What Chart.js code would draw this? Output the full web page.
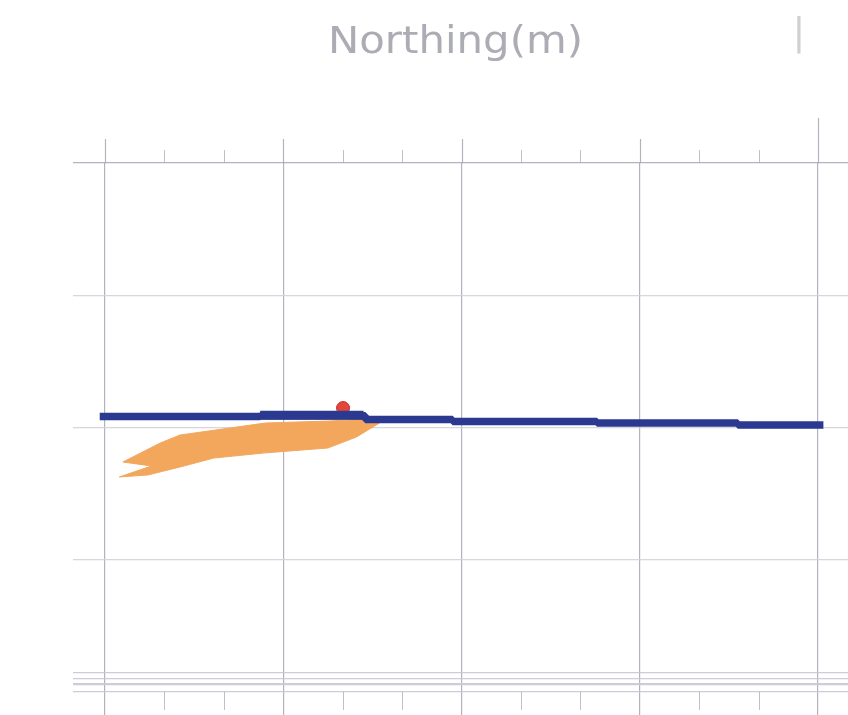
<!DOCTYPE html>
<html>
<head>
<meta charset="utf-8">
<script src="https://cdn.jsdelivr.net/npm/chart.js@4/dist/chart.umd.min.js"></script>
<style>
  html, body { margin: 0; padding: 0; background: #ffffff; overflow: hidden; }
  canvas { display: block; }
</style>
</head>
<body>
<canvas id="plan" width="848" height="715"></canvas>
<script>
// Axis caption and the separator glyph beside it
const titleText = 'Northing(m)';
const sideMark = '|';

// Easting grid (major lines) and the intermediate tick marks
const xMajor = [0, 1, 2, 3, 4];
const xMinor = [0.333, 0.667, 1.333, 1.667, 2.333, 2.667, 3.333, 3.667];

// Northing grid lines, including the closely spaced base lines
const yLines = [0, 0.057, 0.104, 0.146, 1, 2, 3, 4];

// Survey line (stepped centreline)
const lineX = [-0.03, 0.87, 0.87, 1.46, 1.46, 1.95, 1.95, 2.76, 2.76, 3.55, 3.55, 4.03];
const lineY = [2.083, 2.083, 2.088, 2.088, 2.060, 2.060, 2.045, 2.045, 2.034, 2.034, 2.019, 2.019];

// Raised thicker stretch of the survey line
const ridgeX = [0.87, 1.45];
const ridgeY = [2.092, 2.092];

// Footprint polygon (outline, clockwise from the eastern tip)
const zoneX = [1.61, 1.26, 0.90, 0.42, 0.31, 0.10, 0.26, 0.08, 0.24, 0.42, 0.61, 0.89, 1.25, 1.41, 1.54];
const zoneY = [2.072, 2.049, 2.034, 1.943, 1.883, 1.739, 1.709, 1.626, 1.641, 1.701, 1.769, 1.807, 1.845, 1.928, 2.034];

// Marker point
const markX = [1.335];
const markY = [2.147];

const toPoints = (xs, ys) => xs.map((x, i) => ({ x: x, y: ys[i] }));

const gridFrame = {
  id: 'gridFrame',
  afterDraw(chart) {
    const ctx = chart.ctx;
    const xs = chart.scales.x;
    const ys = chart.scales.y;
    const top = ys.getPixelForValue(4);
    const base = ys.getPixelForValue(0);
    ctx.save();
    // major lines run on above the top frame line
    ctx.strokeStyle = 'rgba(160,160,172,0.8)';
    ctx.lineWidth = 1.2;
    xMajor.forEach(v => {
      const px = Math.round(xs.getPixelForValue(v)) + 0.5;
      ctx.beginPath();
      ctx.moveTo(px, top);
      ctx.lineTo(px, v === 4 ? top - 45 : top - 24);
      ctx.stroke();
    });
    // minor ticks above the top line and below the base line
    ctx.strokeStyle = 'rgba(170,170,180,0.75)';
    ctx.lineWidth = 1;
    xMinor.forEach(v => {
      const px = Math.round(xs.getPixelForValue(v)) + 0.5;
      ctx.beginPath();
      ctx.moveTo(px, top);
      ctx.lineTo(px, top - 13);
      ctx.moveTo(px, base);
      ctx.lineTo(px, base + 18);
      ctx.stroke();
    });
    // caption
    ctx.fillStyle = '#acacb4';
    ctx.font = '37px "DejaVu Sans"';
    ctx.textBaseline = 'alphabetic';
    ctx.textAlign = 'center';
    const w = ctx.measureText(titleText).width;
    ctx.save();
    ctx.translate(455.5, 53);
    ctx.scale(255 / w, 1);
    ctx.fillText(titleText, 0, 0);
    ctx.restore();
    ctx.fillStyle = '#d0d0d4';
    ctx.font = '38px "DejaVu Sans"';
    ctx.fillText(sideMark, 799, 44);
    ctx.restore();
  }
};

new Chart(document.getElementById('plan'), {
  type: 'scatter',
  data: {
    datasets: [
      {
        data: toPoints(lineX, lineY),
        showLine: true,
        borderColor: '#2b3990',
        borderWidth: 7.5,
        borderJoinStyle: 'bevel',
        pointRadius: 0,
        order: 0
      },
      {
        data: toPoints(ridgeX, ridgeY),
        showLine: true,
        borderColor: '#2b3990',
        borderWidth: 9,
        pointRadius: 0,
        order: 0
      },
      {
        data: toPoints(markX, markY),
        pointRadius: 6.5,
        backgroundColor: '#e4463c',
        borderColor: '#c4322c',
        borderWidth: 1,
        order: 1
      },
      {
        data: toPoints(zoneX, zoneY),
        showLine: true,
        fill: 'shape',
        backgroundColor: '#f3a75c',
        borderColor: '#f3a75c',
        borderWidth: 1,
        pointRadius: 0,
        order: 2
      }
    ]
  },
  options: {
    responsive: false,
    animation: false,
    devicePixelRatio: 1,
    layout: { autoPadding: false, padding: { left: 73, top: 163, right: 0, bottom: 0 } },
    plugins: {
      legend: { display: false },
      title: { display: false },
      tooltip: { enabled: false }
    },
    scales: {
      x: {
        type: 'linear',
        min: -0.18,
        max: 4.168,
        border: { display: false },
        ticks: { display: false },
        grid: {
          drawTicks: false,
          color: 'rgba(160,160,172,0.8)',
          lineWidth: 1.2
        },
        afterBuildTicks: s => { s.ticks = xMajor.map(v => ({ value: v })); },
        afterFit: s => { s.height = 0; }
      },
      y: {
        type: 'linear',
        min: -0.174,
        max: 4,
        border: { display: false },
        ticks: { display: false },
        grid: {
          drawTicks: false,
          color: c => {
            const v = c.tick ? c.tick.value : 0;
            if (v === 4) return 'rgba(160,160,172,0.8)';
            if (v < 0.5) return 'rgba(200,200,212,0.9)';
            return 'rgba(210,210,216,0.9)';
          },
          lineWidth: c => {
            const v = c.tick ? c.tick.value : 0;
            if (v === 0.057) return 2.2;
            return 1.2;
          }
        },
        afterBuildTicks: s => { s.ticks = yLines.map(v => ({ value: v })); },
        afterFit: s => { s.width = 0; }
      }
    }
  },
  plugins: [gridFrame]
});
</script>
</body>
</html>
